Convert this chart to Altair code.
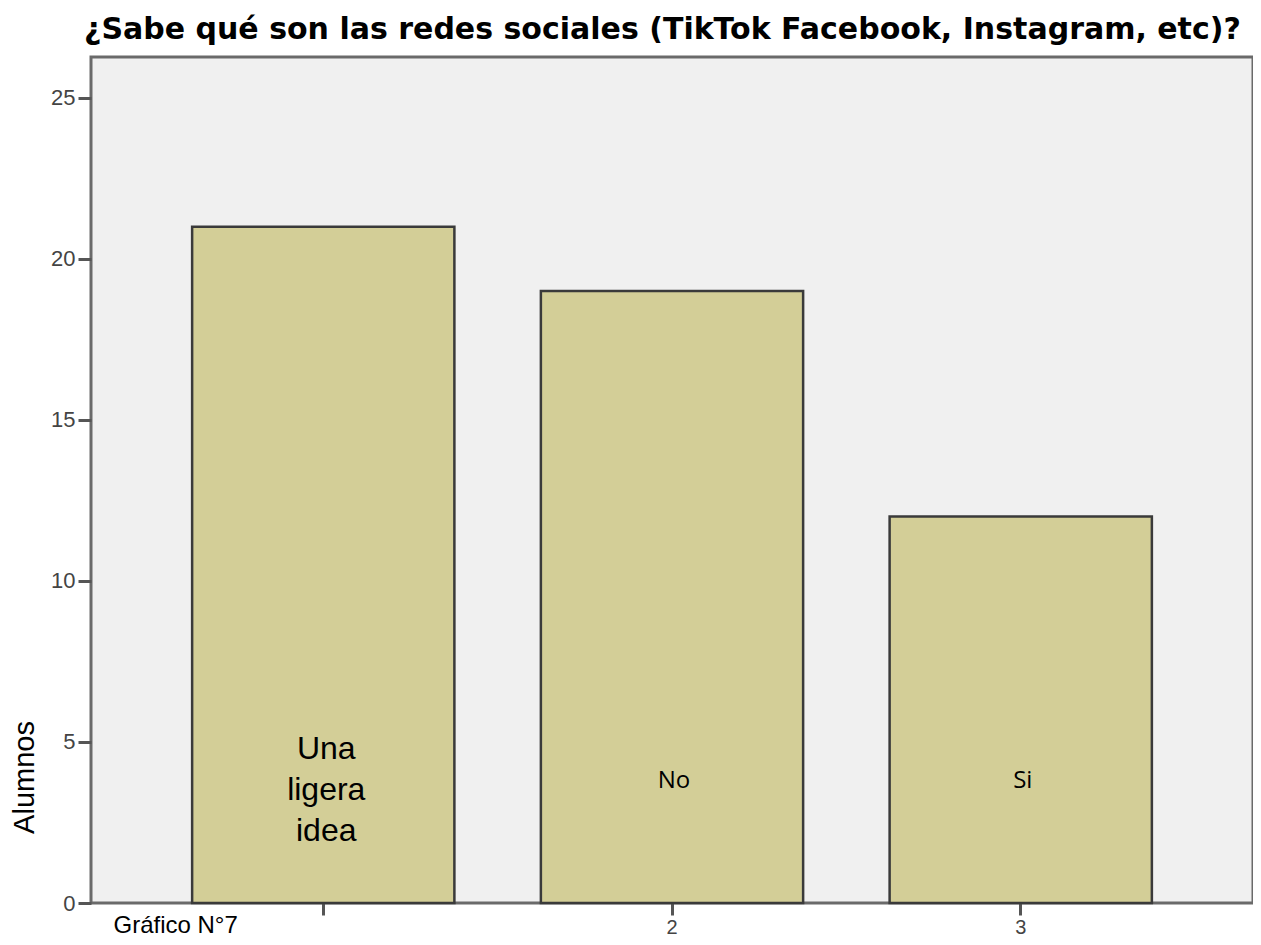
import altair as alt
import pandas as pd

codes = [1, 2, 3]
respuestas = ["Una\nligera\nidea", "No", "Si"]
alumnos = [21, 19, 12]
label_y = [4.78, 3.8, 3.8]
label_size = [32, 24, 24]

df = pd.DataFrame({
    "code": codes,
    "resp": [r.split("\n") for r in respuestas],
    "n": alumnos,
    "ly": label_y,
    "fs": label_size,
})

x = alt.X("code:O", title="Gráfico N°7",
          scale=alt.Scale(paddingInner=0.248, paddingOuter=0.29),
          axis=alt.Axis(labelAngle=0, tickSize=12, tickWidth=3, tickColor="#555",
                        domain=False, labelFontSize=20, labelColor="#444",
                        labelFont="Liberation Sans", labelPadding=2,
                        labelExpr="datum.value == 1 ? '' : datum.label",
                        titleFont="Liberation Sans", titleFontSize=24,
                        titleFontWeight="normal", titleColor="#000",
                        titleAnchor="start", titleAlign="left", titleBaseline="top",
                        titleX=22, titleY=10))

bars = alt.Chart(df).mark_bar(color="#d3ce97", stroke="#3a3a3a", strokeWidth=2.5).encode(
    x=x,
    y=alt.Y("n:Q", title="Alumnos",
            scale=alt.Scale(domain=[0, 26.27], nice=False, zero=True),
            axis=alt.Axis(values=[0, 5, 10, 15, 20, 25], grid=False, tickSize=13,
                          tickWidth=3, tickColor="#555", domain=False,
                          labelFontSize=22, labelColor="#444",
                          labelFont="Liberation Sans", labelPadding=3,
                          titleFont="Liberation Sans", titleFontSize=29,
                          titleFontWeight="normal", titleColor="#000",
                          titleAngle=-90, titleAlign="center", titleBaseline="middle",
                          titleX=-67, titleY=720)),
)

big = alt.Chart(df[df["fs"] == 32]).mark_text(
    font="Liberation Sans", fontSize=32, color="#000", lineHeight=41,
    baseline="middle", align="center", dx=3
).encode(x=alt.X("code:O"), y=alt.Y("ly:Q"), text="resp")

small = alt.Chart(df[df["fs"] == 24]).mark_text(
    font="Open Sans", fontSize=24, color="#000",
    baseline="middle", align="center", dx=2
).encode(x=alt.X("code:O"), y=alt.Y("ly:Q"), text="resp")

chart = alt.layer(bars, big, small).properties(
    width=1162, height=846,
    title=alt.TitleParams(
        "¿Sabe qué son las redes sociales (TikTok Facebook, Instagram, etc)?",
        anchor="start", font="DejaVu Sans", fontSize=30, fontWeight="bold",
        color="#000", offset=12, dx=74),
    autosize=alt.AutoSizeParams(type="none"),
    padding={"left": 83, "top": 49, "right": 0, "bottom": 34},
    background="white",
).configure_view(fill="#f0f0f0", stroke="#6a6a6a", strokeWidth=3)

chart.save("out.html", embed_options={"renderer": "svg", "actions": False})
